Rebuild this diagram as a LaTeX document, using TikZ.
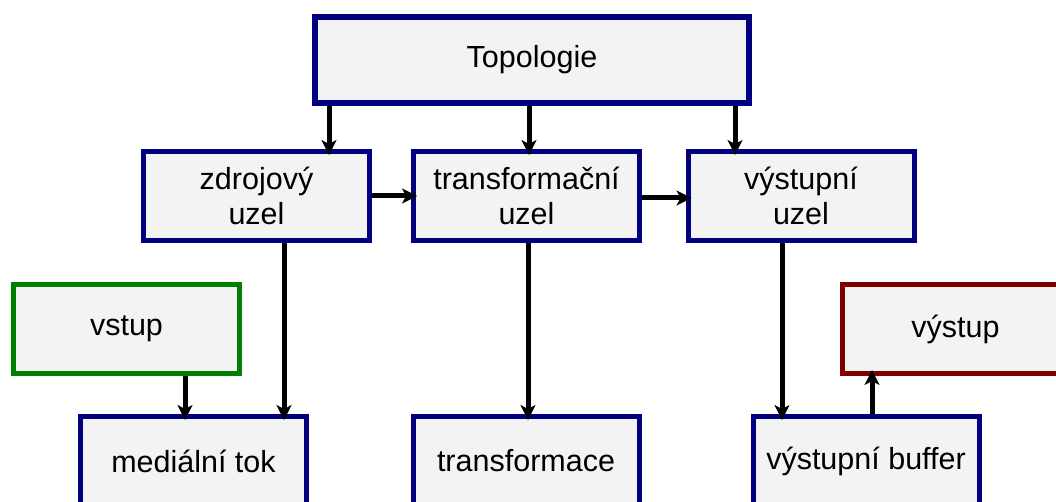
\documentclass[tikz,border=0pt]{standalone}
\usepackage{fontspec}
\setmainfont{Liberation Sans}
\usetikzlibrary{arrows.meta}
\definecolor{boxfill}{HTML}{F3F3F3}
\definecolor{navyb}{HTML}{000080}
\definecolor{greenb}{HTML}{008000}
\definecolor{redb}{HTML}{800000}
\begin{document}
\begin{tikzpicture}[x=1pt,y=-1pt,
  box/.style={draw=navyb,fill=boxfill,line width=5pt,minimum width=226pt,minimum height=89pt,
    inner sep=0pt,align=center,font=\fontsize{30.5}{35}\selectfont},
  arr/.style={line width=5pt,-{Stealth[length=15pt,width=15pt,inset=4pt,line width=0.6pt]},shorten >=-6pt}]
\useasboundingbox (0,0) rectangle (1056,502);
\node[box,line width=6pt,minimum width=434pt,minimum height=86pt] (top) at (532,60) {Topologie};
\node[box] (zdroj) at (256.5,196) {zdrojový\\uzel};
\node[box] (trans) at (526.5,196) {transformační\\uzel};
\node[box] (vyst) at (801,196) {výstupní\\uzel};
\node[box,draw=greenb] (vstup) at (126.5,329) {vstup};
\node[box,draw=redb] (out) at (955.5,329) {výstup};
\node[box] (med) at (193.5,461) {mediální tok};
\node[box] (tf) at (526,461) {transformace};
\node[box] (buf) at (866,461) {výstupní buffer};
\draw[arr] ([xshift=72.5]zdroj.north |- top.south) -- ([xshift=72.5]zdroj.north);
\draw[arr] ([xshift=2.5]trans.north |- top.south) -- ([xshift=2.5]trans.north);
\draw[arr] ([xshift=-66]vyst.north |- top.south) -- ([xshift=-66]vyst.north);
\draw[arr] ([yshift=0]zdroj.east) -- ([yshift=0]trans.west);
\draw[arr] ([yshift=-2]trans.east) -- ([yshift=-2]vyst.west);
\draw[arr] ([xshift=27.5]zdroj.south) -- ([xshift=27.5]zdroj.south |- med.north);
\draw[arr] ([xshift=58.5]vstup.south) -- ([xshift=58.5]vstup.south |- med.north);
\draw[arr] ([xshift=1.5]trans.south) -- ([xshift=1.5]trans.south |- tf.north);
\draw[arr] ([xshift=-19]vyst.south) -- ([xshift=-19]vyst.south |- buf.north);
\draw[arr] ([xshift=6]buf.north) -- ([xshift=6]buf.north |- out.south);
\end{tikzpicture}
\end{document}
